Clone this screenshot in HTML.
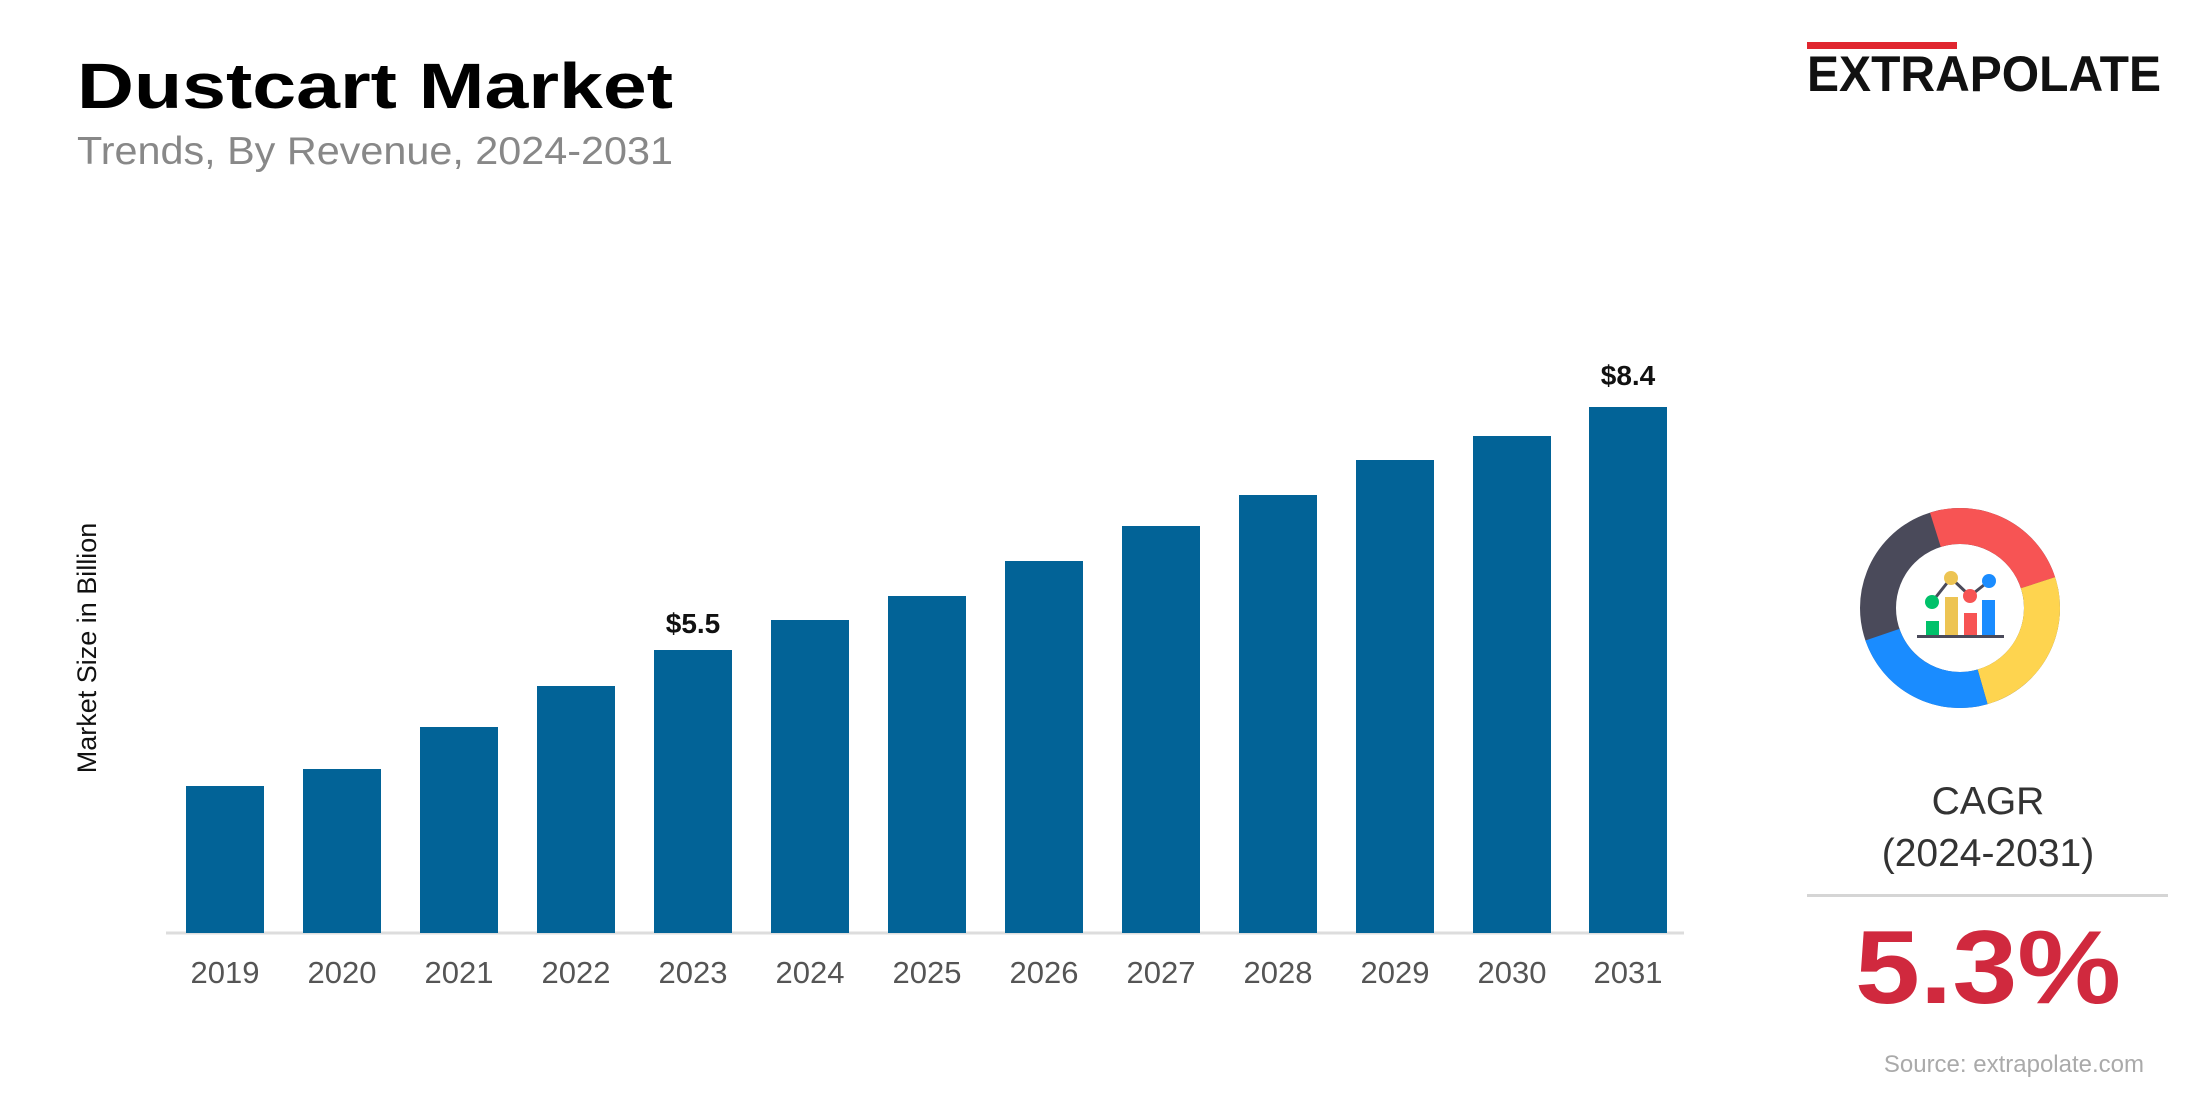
<!DOCTYPE html>
<html><head><meta charset="utf-8"><style>
html,body{margin:0;padding:0;background:#fff;}
svg{display:block;font-family:"Liberation Sans",Arial,sans-serif;}
</style></head><body>
<svg width="2200" height="1100" viewBox="0 0 2200 1100" xmlns="http://www.w3.org/2000/svg">
<rect width="2200" height="1100" fill="#fff"/>
<text x="77" y="108" font-size="64" font-weight="bold" fill="#000" textLength="596" lengthAdjust="spacingAndGlyphs">Dustcart Market</text>
<text x="77" y="164" font-size="39" fill="#888" textLength="596" lengthAdjust="spacingAndGlyphs">Trends, By Revenue, 2024-2031</text>
<rect x="1807" y="42" width="150" height="7" fill="#e0262f"/>
<text x="1807" y="91" font-size="50" font-weight="bold" fill="#111" textLength="354" lengthAdjust="spacingAndGlyphs">EXTRAPOLATE</text>
<line x1="166" y1="933" x2="1684" y2="933" stroke="#ddd" stroke-width="3"/>
<g fill="#026397">
<rect x="186" y="786" width="78" height="147"/>
<rect x="303" y="769" width="78" height="164"/>
<rect x="420" y="727" width="78" height="206"/>
<rect x="537" y="686" width="78" height="247"/>
<rect x="654" y="650" width="78" height="283"/>
<rect x="771" y="620" width="78" height="313"/>
<rect x="888" y="596" width="78" height="337"/>
<rect x="1005" y="561" width="78" height="372"/>
<rect x="1122" y="526" width="78" height="407"/>
<rect x="1239" y="495" width="78" height="438"/>
<rect x="1356" y="460" width="78" height="473"/>
<rect x="1473" y="436" width="78" height="497"/>
<rect x="1589" y="407" width="78" height="526"/>
</g>
<g font-size="28" font-weight="bold" fill="#111" text-anchor="middle">
<text x="693" y="633">$5.5</text>
<text x="1628" y="385">$8.4</text>
</g>
<g font-size="31" fill="#555" text-anchor="middle">
<text x="225" y="983">2019</text><text x="342" y="983">2020</text><text x="459" y="983">2021</text>
<text x="576" y="983">2022</text><text x="693" y="983">2023</text><text x="810" y="983">2024</text>
<text x="927" y="983">2025</text><text x="1044" y="983">2026</text><text x="1161" y="983">2027</text>
<text x="1278" y="983">2028</text><text x="1395" y="983">2029</text><text x="1512" y="983">2030</text>
<text x="1628" y="983">2031</text>
</g>
<text transform="translate(96,648) rotate(-90)" font-size="27" fill="#111" text-anchor="middle">Market Size in Billion</text>
<g transform="translate(1960,608)" fill="none" stroke-width="36">
<circle r="82" stroke="#4a4a5a"/>
<path d="M -24.6 -78.2 A 82 82 0 0 1 78 -25.3" stroke="#f75454"/>
<path d="M 78 -25.3 A 82 82 0 0 1 22.6 78.8" stroke="#fed44f"/>
<path d="M 22.6 78.8 A 82 82 0 0 1 -77.6 26.7" stroke="#1a8cff"/>
</g>
<g transform="translate(1960,608)">
<rect x="-43" y="27" width="87" height="3" fill="#4a4a5a"/>
<rect x="-34" y="13" width="13" height="14" fill="#00c16a"/>
<rect x="-15" y="-11" width="13" height="38" fill="#edc453"/>
<rect x="4" y="5" width="13" height="22" fill="#f75454"/>
<rect x="22" y="-8" width="13" height="35" fill="#1a8cff"/>
<polyline points="-28,-6 -9,-30 10,-12 29,-27" fill="none" stroke="#4a4a5a" stroke-width="3"/>
<circle cx="-28" cy="-6" r="7" fill="#00c16a"/>
<circle cx="-9" cy="-30" r="7" fill="#edc453"/>
<circle cx="10" cy="-12" r="7" fill="#f75454"/>
<circle cx="29" cy="-27" r="7" fill="#1a8cff"/>
</g>
<g font-size="39" fill="#333" text-anchor="middle">
<text x="1988" y="814">CAGR</text>
<text x="1988" y="866">(2024-2031)</text>
</g>
<rect x="1807" y="894" width="361" height="3" fill="#d5d5d5"/>
<text x="1988" y="1003" font-size="104" font-weight="bold" fill="#d0293e" text-anchor="middle" textLength="266" lengthAdjust="spacingAndGlyphs">5.3%</text>
<text x="2144" y="1072" font-size="24" fill="#aaa" text-anchor="end">Source: extrapolate.com</text>
</svg>
</body></html>
